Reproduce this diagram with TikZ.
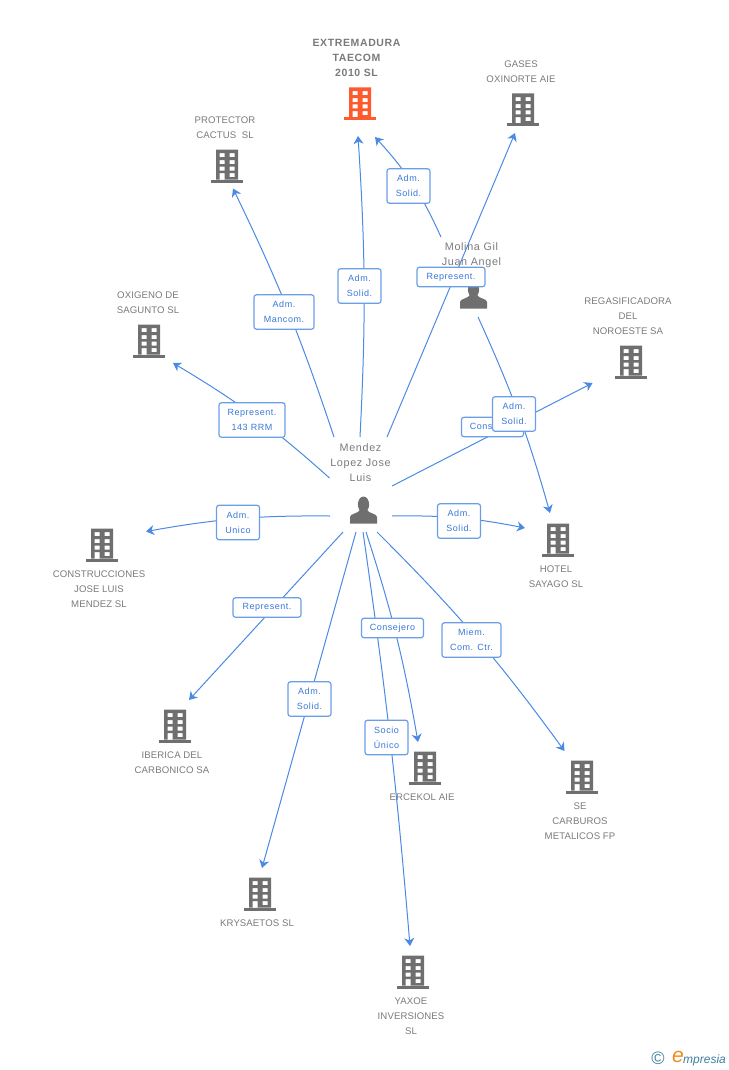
\documentclass[tikz,border=0pt]{standalone}
\usepackage{fontspec}
\setmainfont{Liberation Sans}
\newfontfamily\labfont[LetterSpace=6]{Liberation Sans}
\newfontfamily\namefont[LetterSpace=1]{Liberation Sans}
\usetikzlibrary{arrows.meta,backgrounds}
\definecolor{linkblue}{HTML}{4A8AE4}
\definecolor{boxblue}{HTML}{6A9FE8}
\definecolor{labblue}{HTML}{3A78D8}
\definecolor{icongray}{HTML}{6F6F6F}
\definecolor{textgray}{HTML}{7A7A7A}
\definecolor{mainred}{HTML}{FF5A2E}
\definecolor{logoteal}{HTML}{3F7F9C}
\definecolor{logoorange}{HTML}{F08A1D}
\tikzset{
  x=1pt,y=-1pt,
  arrowline/.style={draw=linkblue,line width=1pt,-{Stealth[length=8pt,width=10pt,inset=2.5pt]}},
  labbox/.style={draw=boxblue,line width=1.2pt,rounded corners=2.5pt,fill=white,inner sep=0pt,
    align=center,text=labblue,font=\labfont\fontsize{9}{15}\selectfont},
  wide/.style={labbox,minimum width=#1pt,minimum height=19.5pt},
  tall/.style={labbox,minimum width=#1pt,minimum height=34.5pt},
  nametext/.style={align=center,text=textgray,inner sep=0pt,font=\namefont\fontsize{9.6}{15}\selectfont},
  persontext/.style={align=center,text=textgray,inner sep=0pt,font=\labfont\fontsize{10.8}{15}\selectfont},
  maintext/.style={align=center,text=textgray,inner sep=0pt,font=\labfont\bfseries\fontsize{10.5}{15}\selectfont},
  bldg/.pic={
    \fill[pic actions,even odd rule]
      (-11,-16.5) rectangle (11,13.5)
      (-7.3,-12.8) rectangle (-2.3,-8.8)
      (2.7,-12.8) rectangle (7.7,-8.8)
      (-7.3,-5.8) rectangle (-2.3,-1.8)
      (2.7,-5.8) rectangle (7.7,-1.8)
      (-7.3,0.5) rectangle (-2.3,4.5)
      (2.7,0.5) rectangle (7.7,4.5)
      (2.7,7.2) rectangle (7.7,11.2)
      (-7.3,7.2) rectangle (-2.3,13.5);
    \fill[pic actions] (-16,13.5) rectangle (16,16.5);
  },
  persona/.pic={
    \fill[pic actions] (0,-5.5) ellipse (5.6 and 8);
    \fill[pic actions] (-13.5,13.5) -- (-13.5,7) .. controls (-13.5,3.5) and (-5,3.5) .. (-3.5,0)
      -- (3.5,0) .. controls (5,3.5) and (13.5,3.5) .. (13.5,7) -- (13.5,13.5) -- cycle;
  }
}
\begin{document}
\begin{tikzpicture}
\useasboundingbox (0,0) rectangle (728,1070);

% buildings
\pic[fill=mainred] (extremadura) at (360,104) {bldg};
\pic[fill=icongray] (protector) at (227,166) {bldg};
\pic[fill=icongray] (gases) at (523,110) {bldg};
\pic[fill=icongray] (oxigeno) at (149,341) {bldg};
\pic[fill=icongray] (regasif) at (631,362) {bldg};
\pic[fill=icongray] (construcc) at (102,545) {bldg};
\pic[fill=icongray] (hotel) at (558,540) {bldg};
\pic[fill=icongray] (iberica) at (175,726) {bldg};
\pic[fill=icongray] (ercekol) at (425,768) {bldg};
\pic[fill=icongray] (krysaetos) at (260,894) {bldg};
\pic[fill=icongray] (carburos) at (582,777) {bldg};
\pic[fill=icongray] (yaxoe) at (413,972) {bldg};
\pic[fill=icongray] (mendez) at (363.5,510) {persona};
\pic[fill=icongray] (molina) at (473.5,295) {persona};

% connector labels
\node[tall=60] (lProt) at (284,312) {Adm.\\Mancom.};
\node[tall=43] (lExt) at (359.5,286) {Adm.\\Solid.};
\node[wide=68] (lGas) at (451,277) {Represent.};
\node[tall=43] (lMolExt) at (408.5,186) {Adm.\\Solid.};
\node[wide=62] (lReg) at (492.5,427) {Consejero};
\node[tall=43] (lMolHot) at (514,414) {Adm.\\Solid.};
\node[tall=43] (lHot) at (459,521) {Adm.\\Solid.};
\node[tall=66] (lOxi) at (252,420) {Represent.\\143 RRM};
\node[tall=43] (lCons) at (238,522.5) {Adm.\\Unico};
\node[wide=68] (lIbe) at (267,607.5) {Represent.};
\node[tall=43] (lKry) at (309.5,699) {Adm.\\Solid.};
\node[tall=43] (lYax) at (386.5,737.5) {Socio\\Único};
\node[wide=62] (lErc) at (392.5,628) {Consejero};
\node[tall=59] (lCar) at (471.5,640) {Miem.\\Com. Ctr.};

% free ends
\coordinate (sProt) at (334,437);  \coordinate (tProt) at (233,188.5);
\coordinate (sExt) at (360,437);   \coordinate (tExt) at (358,136);
\coordinate (sGas) at (387,437);   \coordinate (tGas) at (515,133);
\coordinate (sMolExt) at (441,237);\coordinate (tMolExt) at (375,137);
\coordinate (sReg) at (392,486);   \coordinate (tReg) at (592.5,383);
\coordinate (sMolHot) at (478,317);\coordinate (tMolHot) at (550,513);
\coordinate (sHot) at (392,516);   \coordinate (tHot) at (525,528);
\coordinate (sOxi) at (329.5,478); \coordinate (tOxi) at (173,363);
\coordinate (sCons) at (330,516);  \coordinate (tCons) at (146,531.5);
\coordinate (sIbe) at (343,532);   \coordinate (tIbe) at (189,700);
\coordinate (sKry) at (356,532);   \coordinate (tKry) at (262,868);
\coordinate (sYax) at (363,532);   \coordinate (tYax) at (410,946);
\coordinate (sErc) at (366,532);   \coordinate (tErc) at (418,742);
\coordinate (sCar) at (377,532);   \coordinate (tCar) at (564.5,751);

\begin{scope}[on background layer]
  % person names lie under the connectors
  \node[persontext] (nMolina) at (471.5,255) {Molina Gil\\Juan Angel};
  \node[persontext] (nMendez) at (360.5,462.5) {Mendez\\Lopez Jose\\Luis};
  \node[nametext] (nErc) at (422,797) {ERCEKOL AIE};
  \draw[arrowline] (sProt) to[bend right=3.7] (tProt);
  \draw[arrowline] (sExt) to[bend right=3.3] (tExt);
  \draw[arrowline] (sGas) -- (tGas);
  \draw[arrowline] (sMolExt) to[bend right=9] (tMolExt);
  \draw[arrowline] (sReg) -- (tReg);
  \draw[arrowline] (sMolHot) to[bend left=4.3] (tMolHot);
  \draw[arrowline] (sHot) to[bend left=6] (tHot);
  \draw[arrowline] (sOxi) to[bend right=5.5] (tOxi);
  \draw[arrowline] (sCons) to[bend right=5.3] (tCons);
  \draw[arrowline] (sIbe) -- (tIbe);
  \draw[arrowline] (sKry) -- (tKry);
  \draw[arrowline] (sYax) to[bend left=1.7] (tYax);
  \draw[arrowline] (sErc) to[bend left=4] (tErc);
  \draw[arrowline] (sCar) to[bend left=4.5] (tCar);
\end{scope}

% company names
\node[maintext] (nExt) at (356.5,58) {EXTREMADURA\\TAECOM\\2010 SL};
\node[nametext] (nProt) at (225,127.5) {PROTECTOR\\CACTUS\ \ SL};
\node[nametext] (nGas) at (521,71.5) {GASES\\OXINORTE AIE};
\node[nametext] (nOxi) at (148,302.5) {OXIGENO DE\\SAGUNTO SL};
\node[nametext] (nReg) at (628,316) {REGASIFICADORA\\DEL\\NOROESTE SA};
\node[nametext] (nCons) at (99,589) {CONSTRUCCIONES\\JOSE LUIS\\MENDEZ SL};
\node[nametext] (nHot) at (556,576.5) {HOTEL\\SAYAGO SL};
\node[nametext] (nIbe) at (172,762.5) {IBERICA DEL\\CARBONICO SA};
\node[nametext] (nKry) at (257,923) {KRYSAETOS SL};
\node[nametext] (nCar) at (580,821) {SE\\CARBUROS\\METALICOS FP};
\node[nametext] (nYax) at (411,1016) {YAXOE\\INVERSIONES\\SL};

% logo
\node[inner sep=0pt,text=logoteal,font=\fontsize{18}{18}\selectfont] (logoC) at (658,1058.5) {©};
\node[inner sep=0pt,text=logoorange,font=\itshape\fontsize{21}{21}\selectfont] (logoE) at (678,1057) {e};
\node[inner sep=0pt,anchor=west,text=logoteal,font=\itshape\fontsize{12}{12}\selectfont] (logoT) at (683,1060) {mpresia};
\end{tikzpicture}
\end{document}
